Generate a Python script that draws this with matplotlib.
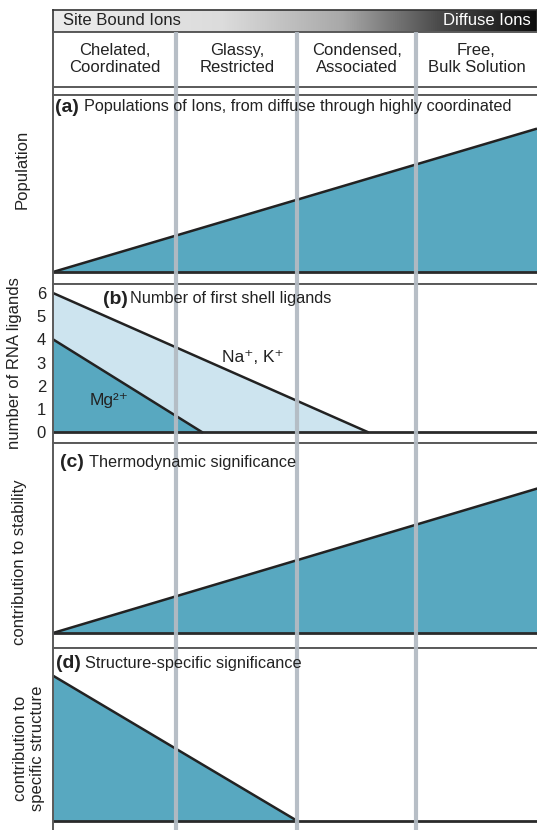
import numpy as np
import matplotlib.pyplot as plt
from matplotlib.colors import LinearSegmentedColormap

plt.rcParams['font.family'] = ['Liberation Sans', 'DejaVu Sans']

W, H = 537, 830
TEAL = '#58a8c0'
LIGHT = '#cde4ef'
FRAME = '#5a5a5a'
GRID = '#b3bbc3'
INK = '#222222'
FS = 12

# header
categories = ['Chelated,\nCoordinated', 'Glassy,\nRestricted',
              'Condensed,\nAssociated', 'Free,\nBulk Solution']
cat_centers = [0.51, 1.52, 2.51, 3.5]
boundaries = [1.02, 2.02, 3.0]
x_max = 4.0

# (a) population of ions
pop_x = [0, 4.0]
pop_y = [0, 0.81]
# (b) number of first shell ligands
na_x = [0, 2.6]
na_y = [6, 0]
mg_x = [0, 1.23]
mg_y = [4, 0]
ligand_ticks = [0, 1, 2, 3, 4, 5, 6]
# (c) thermodynamic significance
stab_x = [0, 4.0]
stab_y = [0, 0.76]
# (d) structure-specific significance
struct_x = [0, 2.02]
struct_y = [0.84, 0]


def fx(px):
    return px / W


def fy(py):
    return 1 - py / H


LEFT = 53

fig = plt.figure(figsize=(W / 100, H / 100), dpi=100)


def panel(top, base, bottom, ymax, bottom_spine=True):
    ax = fig.add_axes([fx(LEFT), fy(bottom), fx(W - LEFT), (bottom - top) / H])
    ax.set_xlim(0, x_max)
    ax.set_ylim(-(bottom - base) * ymax / (base - top), ymax)
    ax.set_xticks([])
    ax.set_yticks([])
    ax.spines['right'].set_visible(False)
    for s in ['top', 'left', 'bottom']:
        ax.spines[s].set_color(FRAME)
        ax.spines[s].set_linewidth(1.4)
    ax.spines['bottom'].set_visible(bottom_spine)
    return ax


# gradient bar
axg = fig.add_axes([fx(LEFT), fy(32), fx(W - LEFT), 22 / H])
grad = LinearSegmentedColormap.from_list(
    'g', [(0, '#ececec'), (0.35, '#dcdcdc'), (0.6, '#a8a8a8'),
          (0.8, '#4a4a4a'), (1.0, '#0e0e0e')])
axg.imshow(np.linspace(0, 1, 256).reshape(1, -1), cmap=grad, aspect='auto',
           extent=[0, x_max, 0, 1])
axg.set_xlim(0, x_max)
axg.set_ylim(0, 1)
axg.set_xticks([])
axg.set_yticks([])
for s in axg.spines.values():
    s.set_color('#333333')
    s.set_linewidth(1.2)
axg.text(0.08, 0.5, 'Site Bound Ions', fontsize=FS, color=INK, va='center', ha='left')
axg.text(3.95, 0.5, 'Diffuse Ions', fontsize=FS, color='white', va='center', ha='right')

# category box
axc = fig.add_axes([fx(LEFT), fy(95), fx(W - LEFT), 63 / H])
axc.set_xlim(0, x_max)
axc.set_ylim(95, 32)
axc.set_xticks([])
axc.set_yticks([])
axc.spines['right'].set_visible(False)
for s in ['top', 'left', 'bottom']:
    axc.spines[s].set_color(FRAME)
    axc.spines[s].set_linewidth(1.4)
axc.axhline(87, color=FRAME, lw=1.4)
for cx, lab in zip(cat_centers, categories):
    axc.text(cx, 59, lab, ha='center', va='center', fontsize=FS,
             color=INK, linespacing=1.15)

# (a)
ax = panel(95, 272, 284, 1.0)
ax.fill([pop_x[0], pop_x[1], pop_x[1]], [pop_y[0], pop_y[1], 0], color=TEAL, lw=0)
ax.plot(pop_x, pop_y, color=INK, lw=1.8, solid_capstyle='butt')
ax.axhline(0, color='#2a2a2a', lw=2)

# (b)
ax = panel(284, 432, 443, 6 * (432 - 284) / (432 - 293))
ax.fill([0, na_x[0], na_x[1]], [0, na_y[0], na_y[1]], color=LIGHT, lw=0)
ax.fill([0, mg_x[0], mg_x[1]], [0, mg_y[0], mg_y[1]], color=TEAL, lw=0)
ax.plot(na_x, na_y, color=INK, lw=1.8)
ax.plot(mg_x, mg_y, color=INK, lw=1.8)
ax.axhline(0, color='#2a2a2a', lw=2)
ax.set_yticks(ligand_ticks)
ax.tick_params(axis='y', length=0, pad=5, labelsize=FS, labelcolor=INK)
ax.text(1.65, 3.23, 'Na\u207a, K\u207a', fontsize=12.5, color=INK,
        ha='center', va='center')
ax.text(0.46, 1.35, 'Mg\u00b2\u207a', fontsize=12.5, color=INK,
        ha='center', va='center')

# (c)
ax = panel(443, 633, 648, 1.0)
ax.fill([stab_x[0], stab_x[1], stab_x[1]], [stab_y[0], stab_y[1], 0], color=TEAL, lw=0)
ax.plot(stab_x, stab_y, color=INK, lw=1.8)
ax.axhline(0, color='#2a2a2a', lw=2)

# (d)
ax = panel(648, 821, 830, 1.0, bottom_spine=False)
ax.fill([struct_x[0], struct_x[0], struct_x[1]], [0, struct_y[0], struct_y[1]], color=TEAL, lw=0)
ax.plot(struct_x, struct_y, color=INK, lw=1.8)
ax.axhline(0, color='#2a2a2a', lw=2)

# panel titles
titles = [(55, 84, 107, '(a)', 'Populations of Ions, from diffuse through highly coordinated'),
          (103, 130, 299, '(b)', 'Number of first shell ligands'),
          (60, 89, 462, '(c)', 'Thermodynamic significance'),
          (56, 85, 663, '(d)', 'Structure-specific significance')]
for lx, tx, ty, lab, txt in titles:
    fig.text(fx(lx), fy(ty), lab, fontsize=14, fontweight='bold', color=INK,
             ha='left', va='center')
    fig.text(fx(tx), fy(ty), txt, fontsize=11.7, color=INK, ha='left', va='center')

# y labels
fig.text(fx(22), fy(169), 'Population', rotation=90, fontsize=FS, color=INK,
         ha='center', va='center')
fig.text(fx(15), fy(363), 'number of RNA ligands', rotation=90, fontsize=FS,
         color=INK, ha='center', va='center')
fig.text(fx(20), fy(562), 'contribution to stability', rotation=90, fontsize=FS,
         color=INK, ha='center', va='center')
fig.text(fx(29), fy(748), 'contribution to\nspecific structure', rotation=90,
         fontsize=FS, color=INK, ha='center', va='center', multialignment='center',
         linespacing=1.1)

# category dividers over everything
axo = fig.add_axes([fx(LEFT), 0, fx(W - LEFT), fy(32)])
axo.set_xlim(0, x_max)
axo.set_facecolor('none')
axo.axis('off')
for b in boundaries:
    axo.axvline(b, color=GRID, lw=3, alpha=0.95)

fig.savefig('out.png', dpi=100)
